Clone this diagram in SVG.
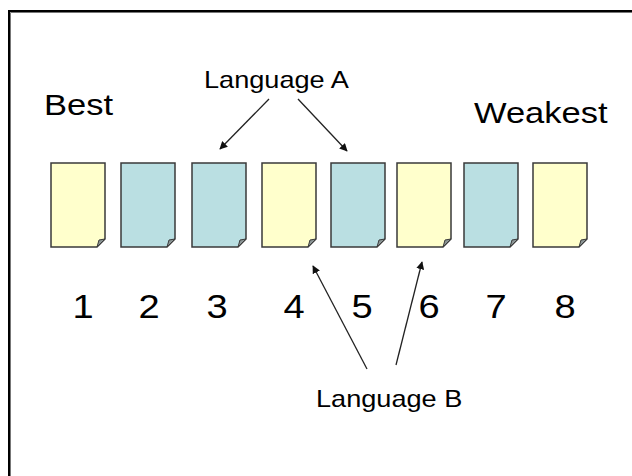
<svg xmlns="http://www.w3.org/2000/svg" width="632" height="476" viewBox="0 0 632 476">
  <defs>
    <marker id="head" viewBox="0 0 10 10" refX="9" refY="5" markerWidth="8" markerHeight="8" markerUnits="userSpaceOnUse" orient="auto">
      <path d="M0,0 L10,5 L0,10 Z" fill="#111"/>
    </marker>
    <path id="page" d="M0,0 H54 V76 L46,84 H0 Z"/>
    <path id="fold" d="M46,84 L48,77 L54,76 Z"/>
  </defs>
  <style>
    text { font-family: "Liberation Sans", Arial, sans-serif; fill: #000; }
    .lbl { font-size: 23px; }
    .big { font-size: 30px; }
    .num { font-size: 34px; text-anchor: middle; }
    .yellow { fill: #FFFFCC; }
    .blue { fill: #BADFE2; }
    .edge { stroke: #3a3a3a; stroke-width: 1.5; stroke-linejoin: miter; }
    .foldc { fill: #8c9696; stroke: #3a3a3a; stroke-width: 1; stroke-linejoin: round; }
    .conn line { stroke: #222; stroke-width: 1.3; marker-end: url(#head); }
  </style>

  <rect width="632" height="476" fill="#fff"/>

  <!-- frame -->
  <path d="M9,476 V11 H632" fill="none" stroke="#000" stroke-width="2"/>
  <path d="M10.5,476 V12.5 H632" fill="none" stroke="#777" stroke-width="1"/>

  <!-- headings (type is set slightly wide) -->
  <g id="best" transform="translate(44,115) scale(1.15,1)"><text class="big" x="0" y="0">Best</text></g>
  <g id="weakest" transform="translate(474,123) scale(1.15,1)"><text class="big" x="0" y="0">Weakest</text></g>
  <g id="languageA" transform="translate(204,88) scale(1.18,1)"><text class="lbl" x="0" y="0">Language A</text></g>
  <g id="languageB" transform="translate(316,407) scale(1.18,1)"><text class="lbl" x="0" y="0">Language B</text></g>

  <!-- ranked documents -->
  <g id="doc1" transform="translate(51,163)"><use href="#page" class="yellow edge"/><use href="#fold" class="foldc"/></g>
  <g id="doc2" transform="translate(121,163)"><use href="#page" class="blue edge"/><use href="#fold" class="foldc"/></g>
  <g id="doc3" transform="translate(192,163)"><use href="#page" class="blue edge"/><use href="#fold" class="foldc"/></g>
  <g id="doc4" transform="translate(262,163)"><use href="#page" class="yellow edge"/><use href="#fold" class="foldc"/></g>
  <g id="doc5" transform="translate(331,163)"><use href="#page" class="blue edge"/><use href="#fold" class="foldc"/></g>
  <g id="doc6" transform="translate(397,163)"><use href="#page" class="yellow edge"/><use href="#fold" class="foldc"/></g>
  <g id="doc7" transform="translate(464,163)"><use href="#page" class="blue edge"/><use href="#fold" class="foldc"/></g>
  <g id="doc8" transform="translate(533,163)"><use href="#page" class="yellow edge"/><use href="#fold" class="foldc"/></g>

  <!-- rank numbers -->
  <g id="ranks">
    <g transform="translate(83,318) scale(1.12,1)"><text class="num">1</text></g>
    <g transform="translate(149,318) scale(1.12,1)"><text class="num">2</text></g>
    <g transform="translate(217,318) scale(1.12,1)"><text class="num">3</text></g>
    <g transform="translate(294,318) scale(1.12,1)"><text class="num">4</text></g>
    <g transform="translate(362,318) scale(1.12,1)"><text class="num">5</text></g>
    <g transform="translate(429,318) scale(1.12,1)"><text class="num">6</text></g>
    <g transform="translate(496,318) scale(1.12,1)"><text class="num">7</text></g>
    <g transform="translate(565,318) scale(1.12,1)"><text class="num">8</text></g>
  </g>

  <!-- connectors -->
  <g id="connectors" class="conn">
    <line x1="269" y1="99" x2="220" y2="149"/>
    <line x1="298" y1="99" x2="347" y2="151"/>
    <line x1="367" y1="369" x2="313" y2="266"/>
    <line x1="396" y1="365" x2="422" y2="262"/>
  </g>
</svg>
